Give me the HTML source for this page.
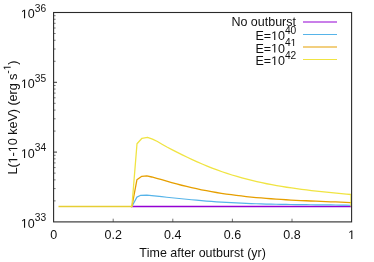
<!DOCTYPE html>
<html><head><meta charset="utf-8"><style>
html,body{margin:0;padding:0;background:#fff;}
svg{display:block}
.t{font-family:"Liberation Sans",sans-serif;font-size:12.5px;fill:#111;font-kerning:none}
.h{fill-opacity:0}
.o{fill:#111}
</style></head><body>
<svg width="374" height="262" viewBox="0 0 374 262">
<rect width="374" height="262" fill="#fff"/>
<line x1="53.6" y1="200.89" x2="55.6" y2="200.89" stroke="#555" stroke-width="0.8"/>
<line x1="53.6" y1="188.60" x2="55.6" y2="188.60" stroke="#555" stroke-width="0.8"/>
<line x1="53.6" y1="179.88" x2="55.6" y2="179.88" stroke="#555" stroke-width="0.8"/>
<line x1="53.6" y1="173.11" x2="55.6" y2="173.11" stroke="#555" stroke-width="0.8"/>
<line x1="53.6" y1="167.59" x2="55.6" y2="167.59" stroke="#555" stroke-width="0.8"/>
<line x1="53.6" y1="162.91" x2="55.6" y2="162.91" stroke="#555" stroke-width="0.8"/>
<line x1="53.6" y1="158.86" x2="55.6" y2="158.86" stroke="#555" stroke-width="0.8"/>
<line x1="53.6" y1="155.29" x2="55.6" y2="155.29" stroke="#555" stroke-width="0.8"/>
<line x1="53.6" y1="152.10" x2="57.0" y2="152.10" stroke="#333" stroke-width="1"/>
<line x1="53.6" y1="131.09" x2="55.6" y2="131.09" stroke="#555" stroke-width="0.8"/>
<line x1="53.6" y1="118.80" x2="55.6" y2="118.80" stroke="#555" stroke-width="0.8"/>
<line x1="53.6" y1="110.08" x2="55.6" y2="110.08" stroke="#555" stroke-width="0.8"/>
<line x1="53.6" y1="103.31" x2="55.6" y2="103.31" stroke="#555" stroke-width="0.8"/>
<line x1="53.6" y1="97.79" x2="55.6" y2="97.79" stroke="#555" stroke-width="0.8"/>
<line x1="53.6" y1="93.11" x2="55.6" y2="93.11" stroke="#555" stroke-width="0.8"/>
<line x1="53.6" y1="89.06" x2="55.6" y2="89.06" stroke="#555" stroke-width="0.8"/>
<line x1="53.6" y1="85.49" x2="55.6" y2="85.49" stroke="#555" stroke-width="0.8"/>
<line x1="53.6" y1="82.30" x2="57.0" y2="82.30" stroke="#333" stroke-width="1"/>
<line x1="53.6" y1="61.29" x2="55.6" y2="61.29" stroke="#555" stroke-width="0.8"/>
<line x1="53.6" y1="49.00" x2="55.6" y2="49.00" stroke="#555" stroke-width="0.8"/>
<line x1="53.6" y1="40.28" x2="55.6" y2="40.28" stroke="#555" stroke-width="0.8"/>
<line x1="53.6" y1="33.51" x2="55.6" y2="33.51" stroke="#555" stroke-width="0.8"/>
<line x1="53.6" y1="27.99" x2="55.6" y2="27.99" stroke="#555" stroke-width="0.8"/>
<line x1="53.6" y1="23.31" x2="55.6" y2="23.31" stroke="#555" stroke-width="0.8"/>
<line x1="53.6" y1="19.26" x2="55.6" y2="19.26" stroke="#555" stroke-width="0.8"/>
<line x1="53.6" y1="15.69" x2="55.6" y2="15.69" stroke="#555" stroke-width="0.8"/>
<line x1="113.20" y1="221.9" x2="113.20" y2="218.7" stroke="#666" stroke-width="0.9"/>
<line x1="172.80" y1="221.9" x2="172.80" y2="218.7" stroke="#666" stroke-width="0.9"/>
<line x1="232.40" y1="221.9" x2="232.40" y2="218.7" stroke="#666" stroke-width="0.9"/>
<line x1="292.00" y1="221.9" x2="292.00" y2="218.7" stroke="#666" stroke-width="0.9"/>
<line x1="58.5" y1="206.5" x2="131.5" y2="206.5" stroke="#E6CE34" stroke-width="1.3"/><polyline fill="none" stroke="#9400D3" stroke-width="1.3" stroke-linejoin="round" points="131.00,206.50 351.50,206.50"/>
<polyline fill="none" stroke="#56B4E9" stroke-width="1.2" stroke-linejoin="round" points="131.50,206.50 131.90,206.50 136.90,197.10 140.80,195.30 146.80,195.22 151.77,195.71 156.74,196.21 161.71,196.72 166.68,197.23 171.65,197.74 176.62,198.25 181.59,198.76 186.56,199.25 191.53,199.73 196.50,200.19 201.47,200.64 206.44,201.05 211.41,201.44 216.38,201.80 221.35,202.13 226.32,202.44 231.29,202.71 236.26,202.97 241.23,203.20 246.20,203.40 251.17,203.59 256.14,203.76 261.11,203.91 266.08,204.04 271.05,204.16 276.02,204.27 280.99,204.36 285.96,204.45 290.93,204.52 295.90,204.59 300.87,204.65 305.84,204.71 310.81,204.76 315.78,204.81 320.75,204.86 325.72,204.91 330.69,204.97 335.66,205.02 340.63,205.09 345.60,205.16 350.57,205.23 351.50,205.25"/>
<polyline fill="none" stroke="#E69F00" stroke-width="1.3" stroke-linejoin="round" points="131.50,206.50 131.90,206.50 136.90,179.80 141.80,176.30 146.80,175.91 151.77,176.99 156.74,178.26 161.71,179.66 166.68,181.12 171.65,182.57 176.62,183.95 181.59,185.25 186.56,186.48 191.53,187.64 196.50,188.74 201.47,189.77 206.44,190.73 211.41,191.64 216.38,192.49 221.35,193.29 226.32,194.03 231.29,194.72 236.26,195.37 241.23,195.97 246.20,196.53 251.17,197.05 256.14,197.53 261.11,197.97 266.08,198.39 271.05,198.77 276.02,199.12 280.99,199.45 285.96,199.75 290.93,200.03 295.90,200.30 300.87,200.54 305.84,200.77 310.81,200.99 315.78,201.20 320.75,201.40 325.72,201.59 330.69,201.78 335.66,201.97 340.63,202.17 345.60,202.36 350.57,202.56 351.50,202.60"/>
<polyline fill="none" stroke="#F0E442" stroke-width="1.3" stroke-linejoin="round" points="131.00,206.50 131.90,206.50 137.00,143.80 142.00,138.30 147.50,137.41 152.47,139.06 157.44,141.54 162.41,144.46 167.38,147.25 172.35,149.89 177.32,152.42 182.29,154.87 187.26,157.27 192.23,159.60 197.20,161.85 202.17,164.02 207.14,166.10 212.11,168.08 217.08,169.96 222.05,171.74 227.02,173.41 231.99,175.00 236.96,176.49 241.93,177.89 246.90,179.21 251.87,180.45 256.84,181.62 261.81,182.71 266.78,183.74 271.75,184.70 276.72,185.60 281.69,186.45 286.66,187.24 291.63,187.98 296.60,188.68 301.57,189.34 306.54,189.96 311.51,190.55 316.48,191.11 321.45,191.64 326.42,192.15 331.39,192.65 336.36,193.13 341.33,193.60 346.30,194.06 351.00,194.50 351.00,206.50"/>
<rect x="53.6" y="12.5" width="298.0" height="209.4" fill="none" stroke="#2a2a2a" stroke-width="1.1"/>
<line x1="303" y1="22.0" x2="337" y2="22.0" stroke="#9400D3" stroke-width="1.2"/>
<line x1="303" y1="34.5" x2="337" y2="34.5" stroke="#56B4E9" stroke-width="1.0"/>
<line x1="303" y1="47.0" x2="337" y2="47.0" stroke="#E69F00" stroke-width="1.2"/>
<line x1="303" y1="59.5" x2="337" y2="59.5" stroke="#F0E442" stroke-width="1.0"/>
<g style="will-change:transform">
<g transform="translate(46.10,227.70)"><text text-anchor="end" class="t" style="font-size:12.5px"><tspan class="h">1</tspan>0<tspan dy="-6.5" style="font-size:10.2px">33</tspan></text><path class="o" transform="translate(-25.25,0.00) scale(0.00610,-0.00610)" d="M515 0V1237L197 1010V1180L530 1409H696V0Z"/></g>
<g transform="translate(46.10,157.90)"><text text-anchor="end" class="t" style="font-size:12.5px"><tspan class="h">1</tspan>0<tspan dy="-6.5" style="font-size:10.2px">34</tspan></text><path class="o" transform="translate(-25.25,0.00) scale(0.00610,-0.00610)" d="M515 0V1237L197 1010V1180L530 1409H696V0Z"/></g>
<g transform="translate(46.10,88.10)"><text text-anchor="end" class="t" style="font-size:12.5px"><tspan class="h">1</tspan>0<tspan dy="-6.5" style="font-size:10.2px">35</tspan></text><path class="o" transform="translate(-25.25,0.00) scale(0.00610,-0.00610)" d="M515 0V1237L197 1010V1180L530 1409H696V0Z"/></g>
<g transform="translate(46.10,18.30)"><text text-anchor="end" class="t" style="font-size:12.5px"><tspan class="h">1</tspan>0<tspan dy="-6.5" style="font-size:10.2px">36</tspan></text><path class="o" transform="translate(-25.25,0.00) scale(0.00610,-0.00610)" d="M515 0V1237L197 1010V1180L530 1409H696V0Z"/></g>
<g transform="translate(53.60,239.10)"><text text-anchor="middle" class="t" style="font-size:12.5px">0</text></g>
<g transform="translate(113.20,239.10)"><text text-anchor="middle" class="t" style="font-size:12.5px">0.2</text></g>
<g transform="translate(172.80,239.10)"><text text-anchor="middle" class="t" style="font-size:12.5px">0.4</text></g>
<g transform="translate(232.40,239.10)"><text text-anchor="middle" class="t" style="font-size:12.5px">0.6</text></g>
<g transform="translate(292.00,239.10)"><text text-anchor="middle" class="t" style="font-size:12.5px">0.8</text></g>
<g transform="translate(351.60,239.10)"><text text-anchor="middle" class="t" style="font-size:12.5px"><tspan class="h">1</tspan></text><path class="o" transform="translate(-3.48,0.00) scale(0.00610,-0.00610)" d="M515 0V1237L197 1010V1180L530 1409H696V0Z"/></g>
<g transform="translate(296.00,25.80)"><text text-anchor="end" class="t" style="font-size:12.5px">No outburst</text></g>
<g transform="translate(296.30,40.00)"><text text-anchor="end" class="t" style="font-size:12.5px">E=<tspan class="h">1</tspan>0<tspan dy="-6.5" style="font-size:10.2px">40</tspan></text><path class="o" transform="translate(-25.25,0.00) scale(0.00610,-0.00610)" d="M515 0V1237L197 1010V1180L530 1409H696V0Z"/></g>
<g transform="translate(296.30,52.50)"><text text-anchor="end" class="t" style="font-size:12.5px">E=<tspan class="h">1</tspan>0<tspan dy="-6.5" style="font-size:10.2px">4<tspan class="h">1</tspan></tspan></text><path class="o" transform="translate(-25.25,0.00) scale(0.00610,-0.00610)" d="M515 0V1237L197 1010V1180L530 1409H696V0Z"/><path class="o" transform="translate(-5.67,-6.50) scale(0.00498,-0.00498)" d="M515 0V1237L197 1010V1180L530 1409H696V0Z"/></g>
<g transform="translate(296.30,65.00)"><text text-anchor="end" class="t" style="font-size:12.5px">E=<tspan class="h">1</tspan>0<tspan dy="-6.5" style="font-size:10.2px">42</tspan></text><path class="o" transform="translate(-25.25,0.00) scale(0.00610,-0.00610)" d="M515 0V1237L197 1010V1180L530 1409H696V0Z"/></g>
<g transform="translate(202.50,257.35)"><text text-anchor="middle" class="t" style="font-size:12.46px">Time after outburst (yr)</text></g>
<g transform="translate(17.30,174.50) rotate(-90)"><text text-anchor="start" class="t" style="font-size:12.7px;letter-spacing:-0.08px">L(<tspan class="h">1</tspan>-<tspan class="h">1</tspan>0 keV) (erg s<tspan dy="-6.6" style="font-size:10.2px">-<tspan class="h">1</tspan></tspan><tspan dy="6.6">)</tspan></text><path class="o" transform="translate(11.12,0.00) scale(0.00620,-0.00620)" d="M515 0V1237L197 1010V1180L530 1409H696V0Z"/><path class="o" transform="translate(22.27,0.00) scale(0.00620,-0.00620)" d="M515 0V1237L197 1010V1180L530 1409H696V0Z"/><path class="o" transform="translate(104.17,-6.60) scale(0.00498,-0.00498)" d="M515 0V1237L197 1010V1180L530 1409H696V0Z"/></g>
</g>
</svg>
</body></html>
